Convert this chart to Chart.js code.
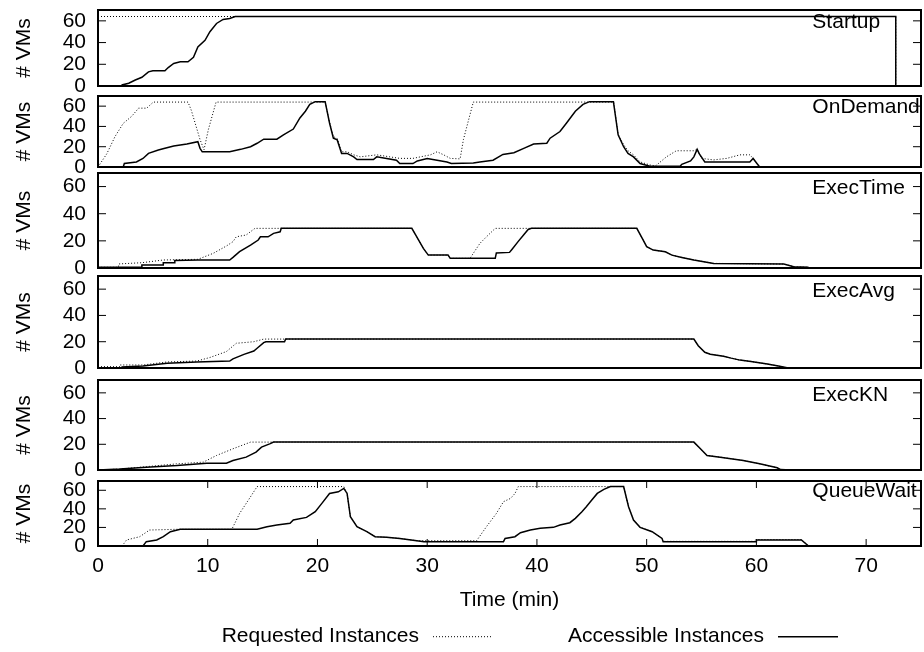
<!DOCTYPE html>
<html>
<head>
<meta charset="utf-8">
<script src="https://cdn.jsdelivr.net/npm/chart.js@4/dist/chart.umd.min.js"></script>
<style>
html,body{margin:0;padding:0;background:#fff;overflow:hidden;width:924px;height:652px;position:relative;}
canvas{position:absolute;left:0;}
</style>
</head>
<body>
<script>
// ---------- DATA ----------
const panelNames = ['Startup', 'OnDemand', 'ExecTime', 'ExecAvg', 'ExecKN', 'QueueWait'];
const seriesNames = ['Requested Instances', 'Accessible Instances'];
const xTickValues = [0, 10, 20, 30, 40, 50, 60, 70];
const yTickValues = [0, 20, 40, 60];
const xAxisTitle = 'Time (min)';
const yAxisTitle = '# VMs';

// [time (min), # VMs]
const startupRequested = [[0,64],[72.7,64],[72.7,0]];
const startupAccessible = [[0,0],[2.2,0],[2.2,1],[2.8,2.5],[3.4,5.5],[4.0,8],[4.6,13],[5.0,14],[6.1,14],[6.4,17],[6.9,20.8],[7.5,22.3],[8.2,22.3],[8.7,26.4],[9.1,36],[9.75,42],[10.2,50],[10.8,57.6],[11.4,61.3],[12.0,62.2],[12.5,64],[72.7,64],[72.7,0]];

const onDemandRequested = [[0,0],[0.8,13],[1.55,30],[2.3,43],[3.07,50],[3.7,58],[4.44,58],[5.04,64],[8.2,64],[8.5,56],[9.3,27],[9.66,17],[10.06,37],[10.76,64],[20.7,64],[21.1,44],[21.45,30],[21.8,28],[22.2,15],[22.7,15],[23.3,12],[23.9,10],[25.4,12],[26.6,10],[27.5,8.5],[28.7,8.5],[30.3,12],[30.9,15],[31.5,12],[32.1,8.5],[33.0,8],[33.3,27],[34.2,64],[47.0,64],[47.4,32],[47.9,22],[48.3,16],[48.8,12],[49.4,5],[50.3,2],[50.8,1],[51.8,10],[52.7,16],[54.3,16],[54.6,17.4],[55.0,8.5],[56.1,7],[57.3,8.5],[58.5,12],[59.4,12],[59.7,8.5],[60.05,3.4],[60.3,0]];
const onDemandAccessible = [[0,0],[2.3,0],[2.4,3.4],[3.5,5],[4.1,8.4],[4.6,13.4],[5.5,16.7],[6.1,18.4],[6.9,20.7],[8.1,22.7],[9.1,25],[9.3,18.4],[9.5,15],[12.0,15],[13.0,17.4],[13.9,20],[14.5,23.4],[15.1,27.4],[16.3,27.4],[16.9,31.7],[17.8,37.4],[18.4,48.4],[18.9,55],[19.3,61.7],[19.8,64.4],[20.7,64.4],[21.1,43.4],[21.45,28.4],[21.8,26.7],[22.2,13.4],[22.7,13.4],[23.3,10],[23.6,7.4],[25.1,7.4],[25.4,10],[26.3,8.4],[27.2,6.7],[27.5,3.4],[28.7,3.4],[29.1,6],[30.0,8.4],[30.9,6.7],[31.8,5],[32.2,3.4],[34.2,4],[34.8,5],[36.0,6.7],[36.9,12.4],[37.9,14],[38.8,18.4],[39.7,22.7],[40.9,23.4],[41.2,28.4],[42.1,35],[42.7,43.4],[43.5,55],[44.2,61.7],[44.8,64.4],[46.97,64.4],[47.4,31.7],[47.9,20],[48.3,13.4],[48.8,10],[49.4,3.4],[50.3,0.7],[53.05,0.7],[53.2,2.7],[54,6],[54.3,10],[54.6,17.4],[54.8,13],[55.3,5],[59.4,5],[59.7,8.4],[60.05,3.4],[60.3,0]];

const execTimeRequested = [[0,0.5],[1.85,0.5],[1.9,3],[4.0,3.9],[5.95,5.9],[9.1,6.4],[10.5,10.8],[11.7,16.2],[12.3,19.4],[12.6,23],[13.5,24.3],[14.3,29.2],[28.6,29.2],[29.05,23],[29.65,14.4],[30.1,9.5],[31.9,9.5],[32.1,7.1],[33.9,7.1],[34.8,18.1],[35.4,23],[36.2,29.2],[49.1,29.2],[49.6,21.8],[50.0,15.7],[50.6,13.2],[51.7,12],[52.3,9.5],[53.2,7.8],[54.3,5.9],[56.1,3.4],[62.5,2.9],[63.4,0.9],[64.75,0.5]];
const execTimeAccessible = [[0,0.5],[4.0,0.5],[4.0,2.2],[5.95,2.2],[5.95,3.9],[7.0,3.9],[7.0,5.6],[9.1,5.9],[12.0,5.9],[12.3,7.8],[12.9,12],[13.9,16.9],[14.6,20.6],[14.8,23],[15.5,23],[16.0,25.5],[16.6,26.7],[16.7,29.2],[28.6,29.2],[29.05,23],[29.65,14.4],[30.1,9.5],[31.9,9.5],[32.1,7.1],[36.2,7.1],[36.3,11],[37.5,11.5],[37.7,13.5],[38.3,19.6],[38.8,24.5],[39.2,28.4],[39.5,29.2],[49.1,29.2],[49.6,21.8],[50.0,15.7],[50.6,13.2],[51.7,12],[52.3,9.5],[53.2,7.8],[54.3,5.9],[56.1,3.4],[62.5,2.9],[63.4,0.9],[64.75,0.5]];

const execAvgRequested = [[0,1],[2.0,1],[2.0,2.3],[4.1,2.3],[6.3,4.6],[9.0,5.3],[10.2,8],[11.7,12.5],[12.6,18.8],[14.2,20],[15.1,22],[54.3,22],[54.7,17],[55.3,12],[55.8,10.5],[57.0,9],[57.7,7.5],[58.5,6],[59.5,5],[61.0,3],[62.0,1.5],[62.9,0]];
const execAvgAccessible = [[0,0],[2.2,0],[2.2,0.7],[4.1,1.5],[6.3,3.6],[9.0,4.6],[12.0,5.3],[12.3,7],[13.3,10.4],[14.2,12.9],[14.5,15],[15.1,19.3],[15.3,20],[17.0,20],[17.1,22],[54.3,22],[54.7,17],[55.3,12],[55.8,10.5],[57.0,9],[57.7,7.5],[58.5,6],[59.5,5],[61.0,3],[62.0,1.5],[62.9,0]];

const execKNRequested = [[0,0],[2.0,0.7],[4.4,2.6],[7.2,4.8],[9.6,6.1],[10.8,11.3],[12.3,16.5],[13.9,21.7],[54.3,21.7],[54.9,16.5],[55.5,11.3],[56.7,10],[58.8,7.4],[60.3,4.8],[61.9,1.7],[62.2,0.3],[63.1,0]];
const execKNAccessible = [[0,0],[2.0,0.7],[4.4,2.2],[7.2,3.5],[9.9,5.3],[11.7,5.3],[12.3,7.4],[13.5,10],[14.4,13.9],[14.9,17.8],[15.7,20.5],[16.0,21.7],[54.3,21.7],[54.9,16.5],[55.5,11.3],[56.7,10],[58.8,7.4],[60.3,4.8],[61.9,1.7],[62.2,0.3],[63.1,0]];

const queueWaitRequested = [[0,0],[2.2,0],[2.6,6.5],[3.8,10],[4.7,17.2],[7.2,18],[12.2,18],[12.9,35],[13.9,53],[14.5,64],[22.4,64],[22.7,56.6],[23.0,31.5],[23.6,20.8],[24.5,15.4],[25.25,10],[26.3,9.3],[27.5,8.2],[29.05,5.7],[29.7,5.7],[34.5,5.7],[35.4,20.8],[36.3,35],[36.95,47.7],[37.6,51.3],[38.0,56.6],[38.3,64],[47.9,64],[48.35,42.3],[48.8,28],[49.4,20.1],[50.5,15.4],[51.4,8.2],[51.5,5],[60.0,5],[60.0,7],[64.1,7],[64.75,0]];
const queueWaitAccessible = [[0,0],[4.1,0],[4.4,4.7],[5.35,6.5],[5.95,10],[6.6,15.4],[7.5,18],[14.5,18],[15.4,20.8],[16.3,22.6],[17.5,24.4],[17.8,28],[19.0,30.8],[19.8,36.9],[20.4,45.9],[21.1,56.6],[21.9,58.4],[22.4,62],[22.7,56.6],[23.0,31.5],[23.6,20.8],[24.5,15.4],[25.25,10],[26.3,9.3],[27.5,8.2],[29.05,5.7],[29.7,4.7],[36.95,4.7],[37.1,8.2],[38.0,10],[38.5,14.3],[39.4,17.2],[40.3,19],[41.5,20.1],[42.1,22.6],[43.0,25.1],[43.5,29.8],[44.1,36.9],[44.5,42.3],[45.0,49.5],[45.5,56.6],[46.1,61],[46.7,64],[47.9,64],[48.35,42.3],[48.8,28],[49.4,20.1],[50.5,15.4],[51.4,8.2],[51.5,4.5],[60.0,4.5],[60.0,6.5],[64.1,6.5],[64.75,0]];

const requestedSeries = [startupRequested, onDemandRequested, execTimeRequested, execAvgRequested, execKNRequested, queueWaitRequested];
const accessibleSeries = [startupAccessible, onDemandAccessible, execTimeAccessible, execAvgAccessible, execKNAccessible, queueWaitAccessible];

// ---------- LAYOUT / STYLE ----------
const FONT = '"Liberation Sans", Arial, Helvetica, sans-serif';
const FONT_SIZE = 21;
const panelFrames = [[10,86],[96,167],[173,268],[276,368],[380,470],[481,546]]; // page px top/bottom of each plot box
const PAD = 35;
const X_AXIS_H = 67.3;
const labelPos = {x: 65.1, y: 58.5};           // panel name position in data units
const legendTextRight = [419, 764];
const legendLine = [[433, 493], [778, 838]];
const legendCenterY = 636.7;

Chart.defaults.font.family = FONT;
Chart.defaults.font.size = FONT_SIZE;
Chart.defaults.color = '#000';

const framePlugin = {
  id: 'frame',
  afterDatasetsDraw(chart, args, opts) {
    const {ctx, chartArea: a, scales} = chart;
    ctx.save();
    ctx.strokeStyle = '#000';
    ctx.lineWidth = 1;
    ctx.beginPath();
    scales.y.ticks.forEach(t => {
      const y = scales.y.getPixelForValue(t.value);
      ctx.moveTo(a.left, y); ctx.lineTo(a.left + 8, y);
      ctx.moveTo(a.right, y); ctx.lineTo(a.right - 8, y);
    });
    if (opts.xTicks) {
      scales.x.ticks.forEach(t => {
        const x = scales.x.getPixelForValue(t.value);
        ctx.moveTo(x, a.bottom); ctx.lineTo(x, a.bottom - 7);
        ctx.moveTo(x, a.top); ctx.lineTo(x, a.top + 7);
      });
    }
    ctx.stroke();
    ctx.lineWidth = 2;
    ctx.strokeRect(a.left, a.top, a.right - a.left, a.bottom - a.top);
    ctx.font = FONT_SIZE + 'px ' + FONT;
    ctx.fillStyle = '#000';
    ctx.textAlign = 'left';
    ctx.textBaseline = 'middle';
    ctx.fillText(opts.label, scales.x.getPixelForValue(labelPos.x), scales.y.getPixelForValue(labelPos.y));
    ctx.restore();
  }
};

const keyPlugin = {
  id: 'key',
  afterDraw(chart, args, opts) {
    if (!opts.show) return;
    const {ctx} = chart;
    const y = legendCenterY - opts.canvasTop;
    chart.data.datasets.forEach((ds, k) => {
      ctx.save();
      ctx.font = FONT_SIZE + 'px ' + FONT;
      ctx.fillStyle = '#000';
      ctx.textAlign = 'right';
      ctx.textBaseline = 'middle';
      ctx.fillText(ds.label, legendTextRight[k], y);
      ctx.strokeStyle = ds.borderColor;
      ctx.lineWidth = ds.borderWidth;
      ctx.setLineDash(ds.borderDash || []);
      ctx.beginPath();
      ctx.moveTo(legendLine[k][0], y);
      ctx.lineTo(legendLine[k][1], y);
      ctx.stroke();
      ctx.restore();
    });
  }
};

function toXY(arr) { return arr.map(([x, y]) => ({x, y})); }

panelNames.forEach((name, i) => {
  const [top, bottom] = panelFrames[i];
  const isLast = i === panelNames.length - 1;
  const cTop = top - PAD;
  const cHeight = isLast ? 652 - cTop : (bottom - top) + 2 * PAD;
  const padB = isLast ? 652 - bottom - X_AXIS_H : PAD;
  const canvas = document.createElement('canvas');
  canvas.width = 924;
  canvas.height = cHeight;
  canvas.style.top = cTop + 'px';
  canvas.style.width = '924px';
  canvas.style.height = cHeight + 'px';
  document.body.appendChild(canvas);

  new Chart(canvas, {
    type: 'line',
    data: {
      datasets: [
        {label: seriesNames[0], data: toXY(requestedSeries[i]), borderColor: '#000', backgroundColor: 'transparent',
         borderWidth: 1, borderDash: [1, 2], pointRadius: 0, tension: 0, fill: false},
        {label: seriesNames[1], data: toXY(accessibleSeries[i]), borderColor: '#000', backgroundColor: 'transparent',
         borderWidth: 1.5, pointRadius: 0, tension: 0, fill: false}
      ]
    },
    options: {
      responsive: false,
      animation: false,
      devicePixelRatio: 1,
      events: [],
      layout: {padding: {top: PAD, bottom: padB, left: 0, right: 3}},
      plugins: {
        legend: {display: false},
        tooltip: {enabled: false},
        frame: {label: name, xTicks: isLast},
        key: {show: isLast, canvasTop: cTop}
      },
      scales: {
        x: {
          type: 'linear', min: 0, max: 75, display: isLast,
          afterBuildTicks: s => { s.ticks = xTickValues.map(v => ({value: v})); },
          afterFit: s => { if (isLast) s.height = X_AXIS_H; },
          grid: {display: false, drawTicks: false},
          border: {display: false},
          ticks: {padding: 8, autoSkip: false, maxRotation: 0, color: '#000'},
          title: {display: true, text: xAxisTitle, color: '#000', padding: {top: 0, bottom: 0}}
        },
        y: {
          type: 'linear', min: 0, max: 70,
          afterBuildTicks: s => { s.ticks = yTickValues.map(v => ({value: v})); },
          afterFit: s => { s.width = 98; },
          grid: {display: false, drawTicks: false},
          border: {display: false},
          ticks: {padding: 12, autoSkip: false, color: '#000'},
          title: {display: true, text: yAxisTitle, color: '#000', padding: {top: 12, bottom: 0}}
        }
      }
    },
    plugins: [framePlugin, keyPlugin]
  });
});
</script>
</body>
</html>
